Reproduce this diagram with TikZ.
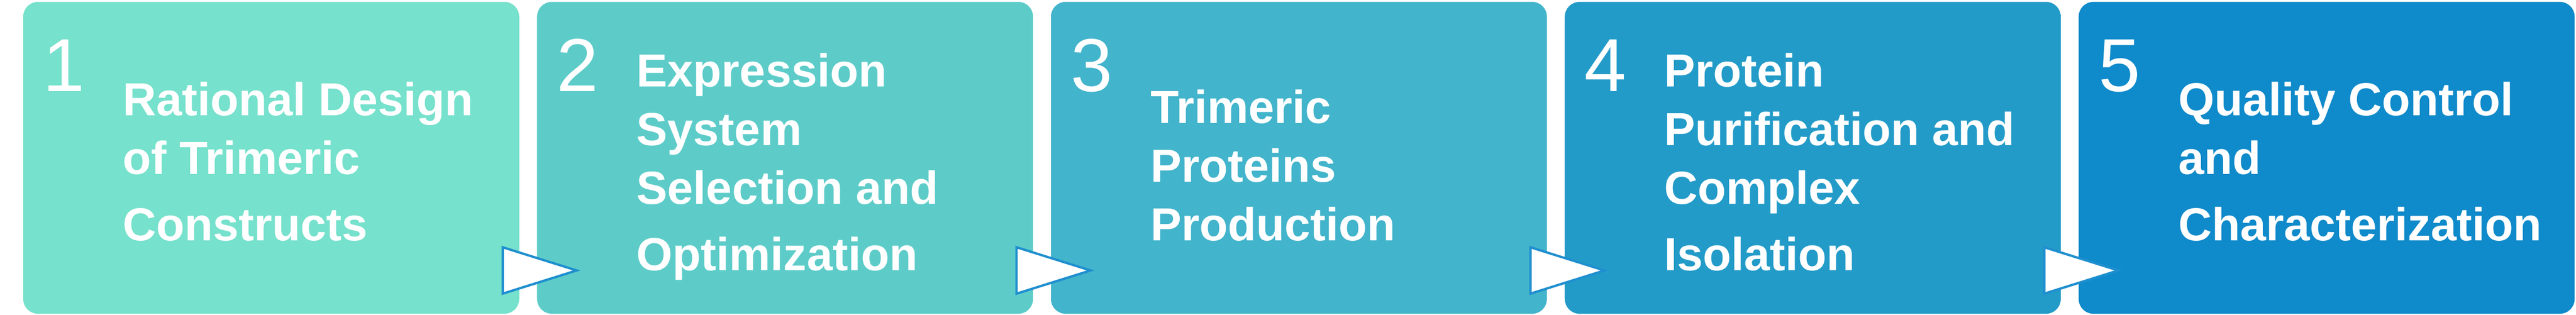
\documentclass[tikz,border=0pt]{standalone}
\usepackage{fontspec}
\setmainfont{Liberation Sans}
\definecolor{stepA}{HTML}{76E1CC}
\definecolor{stepB}{HTML}{5DCCC9}
\definecolor{stepC}{HTML}{42B4CB}
\definecolor{stepD}{HTML}{239BC8}
\definecolor{stepE}{HTML}{0F8ACA}
\definecolor{triline}{HTML}{1F8FCF}

\begin{document}
\begin{tikzpicture}[%
  stepbox/.style={rectangle, rounded corners=0.32cm, minimum width=10.69cm,
    minimum height=6.73cm, inner sep=0pt, outer sep=0pt},
  stepnum/.style={text=white, inner sep=0pt, anchor=base west,
    font=\fontsize{46.1pt}{50pt}\selectfont},
  steptext/.style={text=white, inner sep=0pt, anchor=base west, align=left,
    font=\fontsize{28.45pt}{36pt}\selectfont\bfseries},
  flowtri/.style={draw=triline, fill=white, line width=0.05cm, line join=miter}]
  \useasboundingbox (0,0) rectangle (55.52,6.79);
  % the five steps
  \foreach \i/\x/\c in {1/0.50/stepA, 2/11.575/stepB, 3/22.65/stepC,
      4/33.725/stepD, 5/44.80/stepE} {
    \node[stepbox, fill=\c, anchor=north west] (box\i) at (\x,6.75) {};
    \node[stepnum] (num\i) at ([xshift=0.42cm, yshift=-1.93cm]box\i.north west) {\i};
  }
  % texts sit on the baseline of their last line
  \node[steptext] (txt1) at ([xshift=2.14cm, yshift=-5.15cm]box1.north west)
    {Rational Design\\of Trimeric\\[4.7pt]Constructs};
  \node[steptext] (txt2) at ([xshift=2.14cm, yshift=-5.79cm]box2.north west)
    {Expression\\System\\Selection and\\[4.7pt]Optimization};
  \node[steptext] (txt3) at ([xshift=2.14cm, yshift=-5.15cm]box3.north west)
    {Trimeric\\Proteins\\Production};
  \node[steptext] (txt4) at ([xshift=2.14cm, yshift=-5.79cm]box4.north west)
    {Protein\\Purification and\\Complex\\[4.7pt]Isolation};
  \node[steptext] (txt5) at ([xshift=2.14cm, yshift=-5.15cm]box5.north west)
    {Quality Control\\and\\[4.7pt]Characterization};
  % arrow heads between steps
  \foreach \i in {1,...,4}
    \draw[flowtri] ([shift={(-0.355,0.435)}]box\i.south east) -- ++(0,1.0)
      -- ++(1.595,-0.5) -- cycle;
\end{tikzpicture}
\end{document}
